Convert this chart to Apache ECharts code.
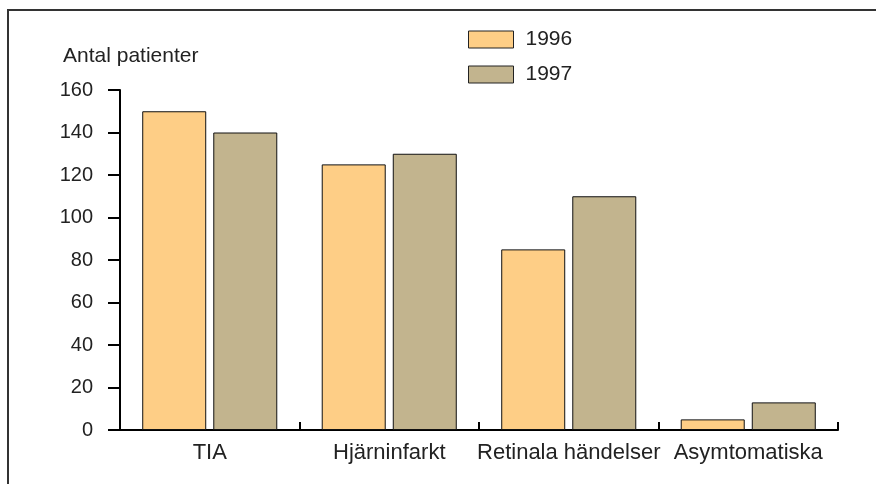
<!DOCTYPE html>
<html><head><meta charset="utf-8">
<script src="https://cdn.jsdelivr.net/npm/echarts@6/dist/echarts.min.js"></script>
<style>html,body{margin:0;padding:0;background:#fff}#c{width:876px;height:484px}</style>
</head><body><div id="c"></div>
<script>
const categories = ['TIA', 'Hjärninfarkt', 'Retinala händelser', 'Asymtomatiska'];
const values1996 = [150, 125, 85, 5];
const values1997 = [140, 130, 110, 13];
const seriesNames = ['1996', '1997'];
const yTicks = { min: 0, max: 160, interval: 20 };

const chart = echarts.init(document.getElementById('c'));
const font = 'Liberation Sans, Arial, sans-serif';
chart.setOption({
  animation: false,
  textStyle: { fontFamily: font },
  graphic: [
    { type: 'polyline', shape: { points: [[8, 484], [8, 10], [876, 10]] }, style: { stroke: '#333', lineWidth: 2, fill: null } }
  ],
  legend: {
    orient: 'vertical', left: 463, top: 24, icon: 'rect',
    itemWidth: 45, itemHeight: 17, itemGap: 14,
    textStyle: { fontSize: 21, color: '#222', fontFamily: font, padding: [2, 0, 0, 7] },
    itemStyle: { borderColor: '#222', borderWidth: 1 },
    data: seriesNames
  },
  grid: { left: 120, right: 38, top: 90, bottom: 54 },
  xAxis: {
    type: 'category', data: categories,
    axisLine: { lineStyle: { color: '#000', width: 2 } },
    axisTick: { show: true, interval: 0, inside: true, length: 8, lineStyle: { color: '#000', width: 2 } },
    axisLabel: { interval: 0, fontSize: 22, color: '#222', margin: 12, fontFamily: font }
  },
  yAxis: {
    type: 'value', min: yTicks.min, max: yTicks.max, interval: yTicks.interval,
    name: 'Antal patienter', nameLocation: 'end', nameGap: 23,
    nameTextStyle: { fontSize: 21, color: '#222', align: 'left', padding: [0, 0, 0, -57], fontFamily: font },
    axisLine: { show: true, lineStyle: { color: '#000', width: 2 } },
    axisTick: { show: true, length: 12, lineStyle: { color: '#000', width: 2 } },
    axisLabel: { fontSize: 20, color: '#222', margin: 27, fontFamily: font },
    splitLine: { show: false }
  },
  series: [
    { name: seriesNames[0], type: 'bar', data: values1996, barWidth: 64, barGap: '11%',
      itemStyle: { color: '#FECE86', borderColor: '#111', borderWidth: 1 } },
    { name: seriesNames[1], type: 'bar', data: values1997, barWidth: 64, barGap: '11%',
      itemStyle: { color: '#C2B48E', borderColor: '#111', borderWidth: 1 } }
  ]
});
</script></body></html>
